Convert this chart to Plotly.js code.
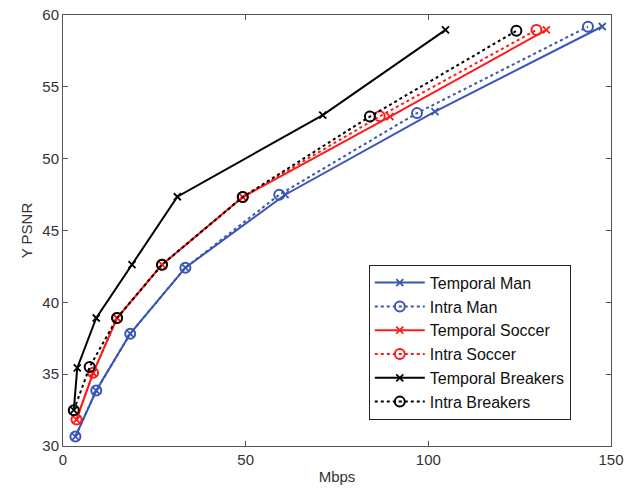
<!DOCTYPE html>
<html>
<head>
<meta charset="utf-8">
<script src="https://cdn.plot.ly/plotly-3.0.1.min.js"></script>
<style>html,body{margin:0;padding:0;background:#fff;}#chart{width:635px;height:495px;}</style>
</head>
<body>
<div id="chart"></div>
<script>
// Data (Mbps vs Y PSNR)
const temporalManX = [3.4, 9.1, 18.4, 33.5, 60.8, 101.8, 147.6];
const temporalManY = [30.66, 33.86, 37.82, 42.41, 47.49, 53.28, 59.2];
const intraManX = [3.4, 9.1, 18.4, 33.5, 59.2, 96.9, 143.7];
const intraManY = [30.66, 33.86, 37.82, 42.41, 47.49, 53.17, 59.19];
const temporalSoccerX = [3.7, 8.25, 14.8, 27.1, 49.2, 89.5, 132.3];
const temporalSoccerY = [31.84, 35.09, 38.91, 42.62, 47.33, 52.93, 58.96];
const intraSoccerX = [3.7, 8.25, 14.8, 27.1, 49.2, 86.7, 129.6];
const intraSoccerY = [31.84, 35.09, 38.91, 42.62, 47.33, 52.95, 58.96];
const temporalBreakersX = [2.95, 3.9, 9.1, 18.9, 31.3, 71.1, 104.7];
const temporalBreakersY = [32.49, 35.44, 38.91, 42.62, 47.35, 53.03, 58.96];
const intraBreakersX = [2.95, 7.3, 14.8, 27.1, 49.2, 84.0, 124.1];
const intraBreakersY = [32.49, 35.5, 38.91, 42.62, 47.33, 52.93, 58.9];

const seriesNames = ["Temporal Man", "Intra Man", "Temporal Soccer", "Intra Soccer", "Temporal Breakers", "Intra Breakers"];
const xTicks = [0, 50, 100, 150];
const yTicks = [30, 35, 40, 45, 50, 55, 60];

const BLUE = "#3a55b4", RED = "#ff1a1a", BLACK = "#000000";
const FONT = "Liberation Sans, Arial, sans-serif";

function temporal(name, x, y, color, g) {
  return {x: x, y: y, name: name, type: "scatter", mode: "lines+markers", legendgroup: g,
    line: {color: color, width: 2},
    marker: {symbol: "x-thin-open", size: 7, color: color, line: {color: color, width: 1.8}}};
}
function intra(name, x, y, color, g) {
  return {x: x, y: y, name: name, type: "scatter", mode: "lines+markers", legendgroup: g,
    line: {color: color, width: 2, dash: "dot"},
    marker: {symbol: "circle-open", size: 10, color: color, line: {color: color, width: 2}}};
}

const data = [
  temporal(seriesNames[0], temporalManX, temporalManY, BLUE, "a"),
  intra(seriesNames[1], intraManX, intraManY, BLUE, "b"),
  temporal(seriesNames[2], temporalSoccerX, temporalSoccerY, RED, "c"),
  intra(seriesNames[3], intraSoccerX, intraSoccerY, RED, "d"),
  temporal(seriesNames[4], temporalBreakersX, temporalBreakersY, BLACK, "e"),
  intra(seriesNames[5], intraBreakersX, intraBreakersY, BLACK, "f")
];

const axisCommon = {
  showgrid: false, zeroline: false, showline: true, linecolor: "#555", linewidth: 1,
  mirror: "ticks", ticks: "inside", ticklen: 5, tickcolor: "#555",
  tickfont: {family: FONT, size: 15, color: "#333"}
};

const layout = {
  width: 635, height: 495,
  margin: {l: 62.5, r: 23.5, t: 15, b: 48.5},
  paper_bgcolor: "#fff", plot_bgcolor: "#fff",
  showlegend: true,
  xaxis: Object.assign({}, axisCommon, {
    range: [0, 150], tickvals: xTicks, ticktext: xTicks.map(String),
    title: {text: "Mbps", standoff: 4, font: {family: FONT, size: 15, color: "#333"}}
  }),
  yaxis: Object.assign({}, axisCommon, {
    range: [30, 60], tickvals: yTicks, ticktext: yTicks.map(String),
    title: {text: "Y PSNR", standoff: 6, font: {family: FONT, size: 15, color: "#333"}}
  }),
  legend: {
    x: 0.558, y: 0.4206, xanchor: "left", yanchor: "top",
    bgcolor: "#fff", bordercolor: "#222", borderwidth: 1,
    font: {family: FONT, size: 16, color: "#111"},
    tracegroupgap: 3, itemwidth: 50, traceorder: "normal"
  }
};

Plotly.newPlot("chart", data, layout, {displayModeBar: false, staticPlot: true});
</script>
</body>
</html>
